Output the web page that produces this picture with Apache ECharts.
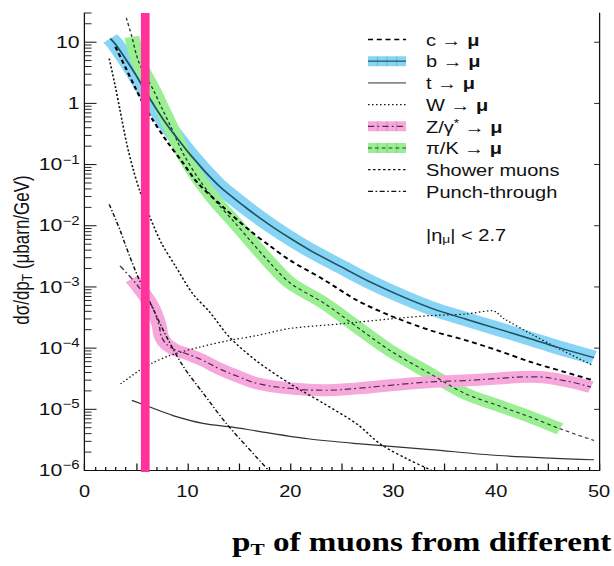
<!DOCTYPE html>
<html>
<head>
<meta charset="utf-8">
<script src="https://cdn.jsdelivr.net/npm/echarts@6/dist/echarts.min.js"></script>
<style>
  html, body { margin: 0; padding: 0; background: #fff; width: 614px; height: 566px; overflow: hidden; }
  /* the plot is laid out on a narrower canvas and widened to the page */
  #chart { width: 491px; height: 566px; transform: scaleX(1.2505); transform-origin: 0 0; }
</style>
</head>
<body>
<div id="chart"></div>
<script>
// ---- axes ----
const ptRange = [0, 50];
const sigmaRange = [1e-6, 30];
const xTickLabels = [0, 10, 20, 30, 40, 50];
const yDecades = [1e-6, 1e-5, 1e-4, 1e-3, 1e-2, 1e-1, 1, 10];
const yMinorSteps = [2, 3, 4, 5, 6, 7, 8, 9];
const ptCut = [5.9];

// ---- muon sources: [pT (GeV), dσ/dpT (μbarn/GeV)] ----
const cToMu = [[3, 8.4], [4, 3.8], [5, 1.7], [6, 0.8], [6.5, 0.58], [8, 0.24], [9.5, 0.11], [11, 0.05],
  [13.5, 0.02], [16, 0.0085], [18, 0.0047], [20, 0.0027], [23.3, 0.0013], [26.5, 0.0006], [29.7, 0.00034],
  [33.6, 0.000195], [37, 0.000135], [40.2, 0.000091], [43.4, 0.000059], [46.6, 0.000041], [49.5, 0.0000295]];
const bToMu = [[2.5, 11.5], [3, 9.3], [4, 5.3], [5, 2.9], [6, 1.5], [7, 0.8], [8, 0.45], [9, 0.27], [10, 0.165],
  [11, 0.105], [12, 0.068], [13, 0.046], [14, 0.033], [16, 0.018], [18, 0.0103], [20, 0.0062], [22, 0.0039],
  [25, 0.0021], [28, 0.00115], [31, 0.00068], [34, 0.00043], [37, 0.0003], [40, 0.00021], [43, 0.000148],
  [46, 0.000103], [49.5, 0.00007]];
const tToMu = [[4.6, 0.000014], [6.4, 0.0000108], [8.6, 0.0000079], [11.5, 0.0000059], [14.4, 0.0000051],
  [16.8, 0.0000044], [21.7, 0.0000033], [26.5, 0.00000275], [33.6, 0.0000022], [40.2, 0.00000176], [49.5, 0.0000015]];
const wToMu = [[3.5, 0.000026], [5.4, 0.000044], [6.4, 0.000055], [8.3, 0.000076], [11.2, 0.000104],
  [14.1, 0.000134], [16.7, 0.00016], [20, 0.00021], [25, 0.00025], [29.7, 0.0003], [33.6, 0.00034],
  [37, 0.00036], [39.6, 0.00041], [40.8, 0.0003], [43.4, 0.00017], [46, 0.0001], [49.4, 0.000052]];
const zToMu = [[3.45, 0.0022], [4.6, 0.00136], [5.4, 0.00093], [6.5, 0.0005], [7.2, 0.00025], [7.6, 0.00014],
  [8.6, 0.000098], [9.9, 0.000081], [11.5, 0.000063], [13.1, 0.000046], [15, 0.000034], [16.8, 0.0000265],
  [20, 0.000022], [23.3, 0.0000205], [26.5, 0.000022], [29.7, 0.0000247], [33.6, 0.000028], [37, 0.0000295],
  [40.2, 0.000032], [43.4, 0.000034], [46.6, 0.0000295], [49.2, 0.000023]];
const piKToMu = [[4.06, 25], [4.6, 12.2], [5.2, 5.1], [6, 2.7], [6.7, 1.64], [7.6, 0.78], [8.4, 0.41],
  [9.6, 0.15], [11.2, 0.055], [12.8, 0.0245], [14.4, 0.0123], [16, 0.006], [18, 0.0025], [20, 0.00115],
  [23.3, 0.00054], [26.5, 0.00022], [29.7, 0.000091], [33.6, 0.000038], [37, 0.000018], [40.2, 0.0000115],
  [43.4, 0.0000074], [46.2, 0.0000048], [49.5, 0.0000031]];
const showerMuons = [[2.4, 5.4], [3, 1.86], [3.45, 0.77], [4.1, 0.22], [4.75, 0.081], [5.4, 0.036],
  [6.35, 0.0139], [7.5, 0.0051], [8.9, 0.0021], [10.5, 0.00078], [12.15, 0.00039], [14.1, 0.00015],
  [16.7, 0.000062], [20, 0.000026], [23.3, 0.0000123], [26.5, 0.0000057], [28.75, 0.0000027],
  [31.3, 0.00000156], [33.75, 0.000001], [35, 0.0000008]];
const punchThrough = [[2.4, 0.0224], [3.45, 0.0085], [4, 0.0047], [5.2, 0.00145], [6.5, 0.0005], [8, 0.00015],
  [9.6, 0.00005], [11.5, 0.0000186], [13.8, 0.0000058], [16.7, 0.00000166], [19, 0.00000063]];

// pT span covered by the shaded uncertainty bands
const piKBandRange = [4.3, 46.3];
const zBandRange = [4.5, 50];

const legendLabels = ['c → {m|μ}', 'b → {m|μ}', 't → {m|μ}', 'W → {m|μ}', 'Z/γ{sup|*} → {m|μ}',
  'π/K → {m|μ}', 'Shower muons', 'Punch-through'];
const etaCutLabel = '|η{sub|μ}| < 2.7';
const yAxisTitle = '{a|dσ/dp}{sub|T}{a| (μbarn/GeV)}';
const bottomTitle = '{a|p}{sub|T}{a| of muons from different}';

// ---- drawing ----
const FONT = '"Liberation Sans", Arial, Helvetica, sans-serif';
const SERIF = '"Liberation Serif", "Times New Roman", serif';
const ink = '#111';

const blue = '#87d4f5', green = '#9aef92', pink = '#f6a8dd', cutColor = '#ff3399';

const inRange = (data, r) => data.filter(p => p[0] >= r[0] && p[0] <= r[1]);

function band(name, data, color, width, z, smooth) {
  return {
    type: 'line', name, data, symbol: 'none', smooth: smooth || 0.3, z, silent: true,
    lineStyle: { color, width, cap: 'butt', join: 'round' }
  };
}
function curve(name, data, style, smooth) {
  return {
    type: 'line', name, data, symbol: 'none', smooth: smooth || 0.3, z: 5, silent: true,
    lineStyle: Object.assign({ cap: 'butt', join: 'round' }, style)
  };
}

// tick marks on the logarithmic axis (inside the frame)
const yTickMarks = [];
yDecades.forEach(d => {
  yTickMarks.push([ptRange[0], d, 1]);
  yMinorSteps.forEach(m => { if (d * m <= sigmaRange[1]) yTickMarks.push([ptRange[0], d * m, 0]); });
});

const styles = {
  c: { color: '#000', width: 1.8, type: [4, 3] },
  b: { color: '#1b5566', width: 1.5, type: 'solid' },
  t: { color: '#333', width: 1.2, type: 'solid' },
  w: { color: '#111', width: 1.2, type: [1.2, 2] },
  z: { color: '#5a2a50', width: 1.2, type: [5, 2.5, 1.5, 2.5] },
  piK: { color: '#2a3a2a', width: 1.1, type: [3, 2.5] },
  shower: { color: '#111', width: 1.3, type: [2, 2] },
  punch: { color: '#111', width: 1.2, type: [4, 2, 1.3, 2] }
};

const series = [
  band('b band', bToMu, blue, 14, 1),
  band('π/K band', inRange(piKToMu, piKBandRange), green, 12, 2),
  band('Z band', inRange(zToMu, zBandRange), pink, 12, 3, 0.5),
  curve('t', tToMu, styles.t),
  curve('W', wToMu, styles.w),
  curve('shower', showerMuons, styles.shower),
  curve('punch', punchThrough, styles.punch),
  curve('Z', zToMu, styles.z, 0.5),
  curve('π/K', piKToMu, styles.piK),
  curve('c', cToMu, styles.c),
  curve('b', bToMu, styles.b),
  {
    type: 'custom', name: 'y ticks', silent: true, z: 8, clip: false,
    data: yTickMarks,
    renderItem: (params, api) => {
      const v = api.value(1), major = api.value(2);
      const l = api.coord([ptRange[0], v]);
      const r = api.coord([ptRange[1], v]);
      const len = major ? 9.6 : 5.6;
      const kids = [{ type: 'line', shape: { x1: l[0], y1: l[1], x2: l[0] + len, y2: l[1] },
        style: { stroke: ink, lineWidth: major ? 1 : 0.9 } }];
      if (major) kids.push({ type: 'line', shape: { x1: r[0], y1: r[1], x2: r[0] - 4, y2: r[1] },
        style: { stroke: ink, lineWidth: 0.9 } });
      return { type: 'group', children: kids };
    }
  },
  {
    type: 'custom', name: 'pT cut', silent: true, z: 9, clip: false,
    data: ptCut.map(x => [x, sigmaRange[1]]),
    renderItem: (params, api) => {
      const x = api.value(0);
      const top = api.coord([x, sigmaRange[1]]);
      const bot = api.coord([x, sigmaRange[0]]);
      const w = 7;
      return { type: 'rect', shape: { x: top[0] - w / 2, y: top[1], width: w, height: bot[1] - top[1] + 1.5 },
        style: { fill: cutColor } };
    }
  }
];

// legend, drawn as plain graphics in the upper right
const lx1 = 294.3, lx2 = 324.7, ltx = 340.7, ly0 = 39.5, ldy = 21.7;
const legendKeys = ['c', 'b', 't', 'w', 'z', 'piK', 'shower', 'punch'];
const legendBoxes = { b: blue, z: pink, piK: green };
const legendGraphics = [];
legendKeys.forEach((k, i) => {
  const y = ly0 + i * ldy;
  const box = legendBoxes[k];
  if (box) {
    legendGraphics.push({ type: 'rect', shape: { x: lx1, y: y - 5, width: lx2 - lx1, height: 10 },
      style: { fill: box }, silent: true });
    [0.25, 0.5, 0.75].forEach(f => legendGraphics.push({ type: 'line',
      shape: { x1: lx1 + f * (lx2 - lx1), y1: y - 5, x2: lx1 + f * (lx2 - lx1), y2: y + 5 },
      style: { stroke: 'rgba(0,0,0,0.12)', lineWidth: 1 }, silent: true }));
  }
  const s = styles[k];
  legendGraphics.push({ type: 'line', shape: { x1: lx1, y1: y, x2: lx2, y2: y }, silent: true,
    style: { stroke: k === 't' ? '#888' : s.color, lineWidth: k === 't' ? 1.6 : Math.min(s.width, 1.3),
      lineDash: Array.isArray(s.type) ? s.type : null } });
  legendGraphics.push({ type: 'text', x: ltx, y: y + 1, silent: true,
    style: { text: legendLabels[i], font: '16px ' + FONT, fill: ink, textVerticalAlign: 'middle',
      rich: { m: { font: 'bold 16px ' + FONT, fill: ink }, sup: { font: '11px ' + FONT, fill: ink, padding: [0, 0, 8, 0] } } } });
});
legendGraphics.push({ type: 'text', x: ltx, y: 236, silent: true,
  style: { text: etaCutLabel, font: '16px ' + FONT, fill: ink, textVerticalAlign: 'middle',
    rich: { sub: { font: '11px ' + FONT, fill: ink, padding: [7, 0, 0, 0] } } } });

const chart = echarts.init(document.getElementById('chart'), null, { renderer: 'svg' });
chart.setOption({
  animation: false,
  backgroundColor: '#fff',
  grid: { left: 67.6, right: 9.2, top: 13, bottom: 95.5, containLabel: false },
  xAxis: {
    type: 'value', min: ptRange[0], max: ptRange[1], interval: 5,
    axisLine: { show: true, onZero: false, lineStyle: { color: ink, width: 1 } },
    axisTick: { show: true, inside: true, length: 7, lineStyle: { color: ink } },
    minorTick: { show: true, splitNumber: 5, length: 3.5, lineStyle: { color: ink } },
    splitLine: { show: false },
    axisLabel: { margin: 13, fontSize: 16, fontFamily: FONT, color: ink,
      formatter: v => xTickLabels.includes(v) ? String(v) : '' }
  },
  yAxis: [{
    type: 'log', logBase: 10, min: sigmaRange[0], max: sigmaRange[1],
    axisLine: { show: true, onZero: false, lineStyle: { color: ink, width: 1 } },
    axisTick: { show: false }, minorTick: { show: false }, splitLine: { show: false },
    axisLabel: {
      margin: 4, color: ink,
      formatter: v => {
        const e = Math.log10(v), n = Math.round(e);
        if (Math.abs(e - n) > 1e-6) return '';
        if (n === 0) return '{b|1}';
        if (n === 1) return '{b|10}';
        return '{b|10}{s|' + (n < 0 ? '−' : '') + Math.abs(n) + '}';
      },
      rich: {
        b: { fontSize: 17, fontFamily: FONT, color: ink },
        s: { fontSize: 12, fontFamily: FONT, color: ink, padding: [0, 0, 10, 0] }
      }
    }
  }, {
    type: 'log', logBase: 10, min: sigmaRange[0], max: sigmaRange[1], position: 'right',
    axisLine: { show: true, onZero: false, lineStyle: { color: ink, width: 1 } },
    axisTick: { show: false }, axisLabel: { show: false }, splitLine: { show: false }
  }],
  series,
  graphic: [
    { type: 'group', children: legendGraphics },
    { type: 'text', x: 17.6, y: 250, rotation: Math.PI / 2, silent: true,
      style: { text: yAxisTitle, textAlign: 'center', textVerticalAlign: 'middle', fill: ink,
        rich: { a: { font: '17px ' + FONT, fill: ink }, sub: { font: '12px ' + FONT, fill: ink, padding: [8, 0, 0, 0] } } } },
    { type: 'text', x: 185.6, y: 542, silent: true,
      style: { text: bottomTitle, textVerticalAlign: 'middle', fill: '#000',
        rich: { a: { font: 'bold 26.5px ' + SERIF, fill: '#000' }, sub: { font: 'bold 17px ' + SERIF, fill: '#000', padding: [15, 0, 0, 0] } } } }
  ]
});
</script>
</body>
</html>
